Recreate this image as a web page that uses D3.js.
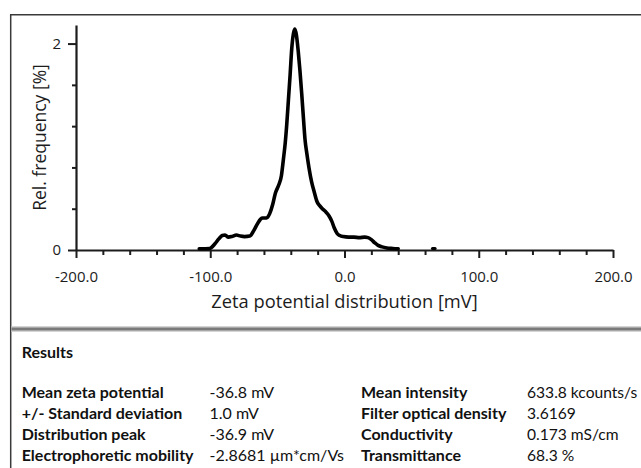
<!DOCTYPE html>
<html>
<head>
<meta charset="utf-8">
<script src="https://cdn.jsdelivr.net/npm/d3@7"></script>
<style>
  html, body { margin: 0; padding: 0; background: #fff; }
  svg { display: block; }
</style>
</head>
<body>
<div id="chart"></div>
<script>
// ---- data ----
const zetaMv = [-108.2, -100.5, -96.5, -93.5, -91.0, -89.0, -86.5, -84.0, -80.5, -77.5, -74.5, -70.5,
  -67.5, -65.0, -62.5, -61.0, -58.0, -55.8, -53.5, -51.5, -49.0, -47.0, -45.5, -44.2, -43.0, -41.8,
  -40.5, -39.3, -38.0, -36.9, -35.8, -34.5, -33.2, -31.9, -30.6, -29.4, -28.0, -26.5, -24.5, -22.5,
  -20.5, -18.5, -16.5, -14.0, -11.5, -9.5, -7.5, -5.5, -3.5, -1.0, 3.0, 7.0, 11.0, 15.0, 17.5, 20.0,
  22.5, 25.0, 28.0, 31.5, 36.0, 40.0];
const relFreq = [0.012, 0.015, 0.06, 0.11, 0.14, 0.145, 0.125, 0.13, 0.145, 0.135, 0.13, 0.135,
  0.19, 0.25, 0.30, 0.31, 0.31, 0.35, 0.44, 0.55, 0.63, 0.72, 0.88, 1.03, 1.22, 1.45,
  1.70, 1.95, 2.10, 2.14, 2.08, 1.93, 1.74, 1.52, 1.28, 1.07, 0.93, 0.80, 0.66, 0.56,
  0.47, 0.43, 0.40, 0.37, 0.33, 0.28, 0.21, 0.16, 0.14, 0.13, 0.125, 0.125, 0.12, 0.125, 0.12, 0.10,
  0.07, 0.045, 0.03, 0.02, 0.015, 0.012];
const blipMv = [65.5, 67.5];
const blipFreq = [0.015, 0.015];

const xMajorTicks = [-200, -100, 0, 100, 200];
const xTickLabels = ["-200.0", "-100.0", "0.0", "100.0", "200.0"];
const xMinorTicks = [-180, -160, -140, -120, -80, -60, -40, -20, 20, 40, 60, 80, 120, 140, 160, 180];
const yTicks = [0, 0.4, 0.8, 1.2, 1.6, 2.0];
const yLabeledTicks = [0, 2];
const yTickLabels = ["0", "2"];

const xTitle = "Zeta potential distribution [mV]";
const yTitle = "Rel. frequency [%]";
const resultsTitle = "Results";
const leftLabels = ["Mean zeta potential", "+/- Standard deviation", "Distribution peak", "Electrophoretic mobility"];
const leftValues = ["-36.8 mV", "1.0 mV", "-36.9 mV", "-2.8681 µm*cm/Vs"];
const rightLabels = ["Mean intensity", "Filter optical density", "Conductivity", "Transmittance"];
const rightValues = ["633.8 kcounts/s", "3.6169", "0.173 mS/cm", "68.3 %"];

// ---- layout ----
const W = 641, H = 468;
const svg = d3.select("#chart").append("svg").attr("width", W).attr("height", H);
svg.append("rect").attr("width", W).attr("height", H).attr("fill", "#fff");

const chartFont = "'Open Sans', sans-serif";
const tableFont = "Lato, 'Open Sans', sans-serif";
const ink = "#1c1c1c";

// frame
svg.append("path").attr("d", `M10.7,${H} V14.7 H${W}`)
  .attr("fill", "none").attr("stroke", "#3a3a3a").attr("stroke-width", 1.5);

const x = d3.scaleLinear().domain([-200, 200]).range([76, 613]);
const y = d3.scaleLinear().domain([0, 2.18]).range([250, 25]);

// x axis major
const gx = svg.append("g").attr("transform", `translate(0,${y(0)})`)
  .call(d3.axisBottom(x).tickValues(xMajorTicks).tickSize(8).tickPadding(13).tickSizeOuter(0)
    .tickFormat((d, i) => xTickLabels[i]));
gx.select(".domain").attr("stroke", ink).attr("stroke-width", 2.2);
gx.selectAll(".tick line").attr("stroke", ink).attr("stroke-width", 2);
gx.selectAll(".tick text").attr("font-family", chartFont).attr("font-size", 15).attr("fill", ink);
// x axis minor
const gxm = svg.append("g").attr("transform", `translate(0,${y(0)})`)
  .call(d3.axisBottom(x).tickValues(xMinorTicks).tickSize(5).tickFormat(""));
gxm.select(".domain").remove();
gxm.selectAll(".tick line").attr("stroke", ink).attr("stroke-width", 2);

// y axis
const gy = svg.append("g").attr("transform", `translate(${x(-200)},0)`)
  .call(d3.axisLeft(y).tickValues(yTicks).tickSizeOuter(0).tickPadding(7)
    .tickFormat(d => { const k = yLabeledTicks.indexOf(d); return k >= 0 ? yTickLabels[k] : ""; }));
gy.select(".domain").attr("stroke", ink).attr("stroke-width", 2.2);
gy.selectAll(".tick line").attr("stroke", ink).attr("stroke-width", 2)
  .attr("x2", d => yLabeledTicks.includes(d) ? -8 : -4);
gy.selectAll(".tick text").attr("font-family", chartFont).attr("font-size", 15).attr("fill", ink)
  .attr("x", -15);

// titles
svg.append("text").attr("x", (x(-200) + x(200)) / 2).attr("y", 308)
  .attr("text-anchor", "middle").attr("font-family", chartFont).attr("font-size", 18.3)
  .attr("fill", ink).text(xTitle);
svg.append("text").attr("transform", `translate(45.5,137.5) rotate(-90)`)
  .attr("text-anchor", "middle").attr("font-family", chartFont).attr("font-size", 17.5)
  .attr("fill", ink).text(yTitle);

// curve
const line = d3.line().x(d => x(d[0])).y(d => y(d[1])).curve(d3.curveMonotoneX);
svg.append("path").datum(zetaMv.map((v, i) => [v, relFreq[i]]))
  .attr("d", line).attr("fill", "none").attr("stroke", "#000")
  .attr("stroke-width", 3.6).attr("stroke-linejoin", "round").attr("stroke-linecap", "round");
svg.append("path").datum(blipMv.map((v, i) => [v, blipFreq[i]]))
  .attr("d", d3.line().x(d => x(d[0])).y(d => y(d[1])))
  .attr("fill", "none").attr("stroke", "#000").attr("stroke-width", 3).attr("stroke-linecap", "round");

// separator
svg.append("rect").attr("x", 11.5).attr("y", 326).attr("width", W - 11.5).attr("height", 6).attr("fill", "#d4d4d4");
svg.append("rect").attr("x", 11.5).attr("y", 327.5).attr("width", W - 11.5).attr("height", 3).attr("fill", "#7a7a7a");

// results table
svg.append("text").attr("x", 21.7).attr("y", 358).attr("font-family", tableFont)
  .attr("font-weight", "bold").attr("font-size", 16).attr("fill", "#111").text(resultsTitle);

const rowY = [397.5, 418.5, 439.5, 460.5];
const cols = [
  { xs: 21.7, texts: leftLabels, bold: true, size: 16 },
  { xs: 209.5, texts: leftValues, bold: false, size: 16 },
  { xs: 361, texts: rightLabels, bold: true, size: 16 },
  { xs: 527, texts: rightValues, bold: false, size: 15.6 }
];
cols.forEach(c => {
  svg.append("g").selectAll("text").data(c.texts).join("text")
    .attr("x", c.xs).attr("y", (d, i) => rowY[i])
    .attr("font-family", tableFont).attr("font-size", c.size)
    .attr("font-weight", c.bold ? "bold" : "normal").attr("fill", "#111")
    .text(d => d);
});
</script>
</body>
</html>
